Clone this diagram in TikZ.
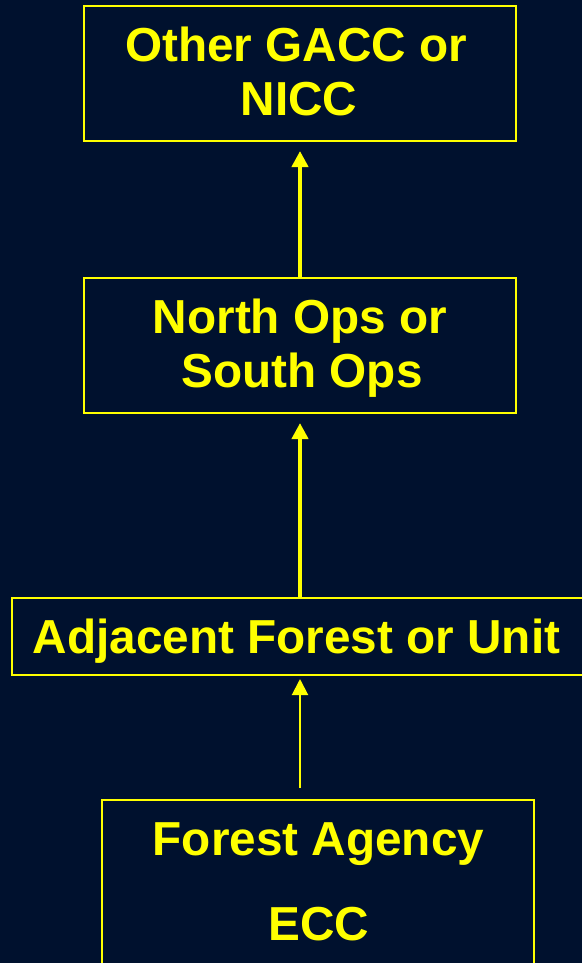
\documentclass[tikz,border=0pt]{standalone}
\usepackage{fontspec}
\setmainfont{Liberation Sans}
\usetikzlibrary{arrows.meta}
\definecolor{bgnavy}{RGB}{0,17,46}
\definecolor{ylw}{RGB}{255,255,0}
\tikzset{
  box/.style={draw=ylw, line width=2pt, rectangle, inner sep=0pt},
  lbl/.style={text=ylw, font=\fontsize{47.7}{54}\selectfont\bfseries, inner sep=0pt, anchor=base},
  thickarr/.style={draw=ylw, line width=4pt, -{Triangle[width=16pt,length=16pt]}},
  thinarr/.style={draw=ylw, line width=2pt, -{Triangle[width=16pt,length=16pt]}}
}
\begin{document}
\begin{tikzpicture}[x=1pt,y=-1pt]
\useasboundingbox (0,0) rectangle (582,963);
\fill[bgnavy] (0,0) rectangle (582,963);
\clip (0,0) rectangle (582,963);
% boxes
\node[box, minimum width=432pt, minimum height=135pt] (b1) at (300,73.5) {};
\node[box, minimum width=432pt, minimum height=135pt] (b2) at (300,345.5) {};
\node[box, minimum width=590pt, minimum height=77pt] (b3) at (307,636.5) {};
\node[box, minimum width=432pt, minimum height=200pt] (b4) at (318,900) {};
% texts
\node[lbl] (t1a) at (296,62) {Other GACC or};
\node[lbl] (t1b) at (299,116) {NICC};
\node[lbl] (t2a) at (300,333) {North Ops or};
\node[lbl] (t2b) at (302,387) {South Ops};
\node[lbl] (t3) at (296.5,653) {Adjacent Forest or Unit};
\node[lbl] (t4a) at (318.5,855) {Forest Agency};
\node[lbl] (t4b) at (319,940) {ECC};
% arrows
\draw[thickarr, shorten >=9pt] (b2.north) -- (b1.south);
\draw[thickarr, shorten >=9pt] (b3.north -| b2.south) -- (b2.south);
\draw[thinarr, shorten >=3pt, shorten <=11pt] (b4.north -| b2.south) -- (b3.south -| b2.south);
\end{tikzpicture}
\end{document}
